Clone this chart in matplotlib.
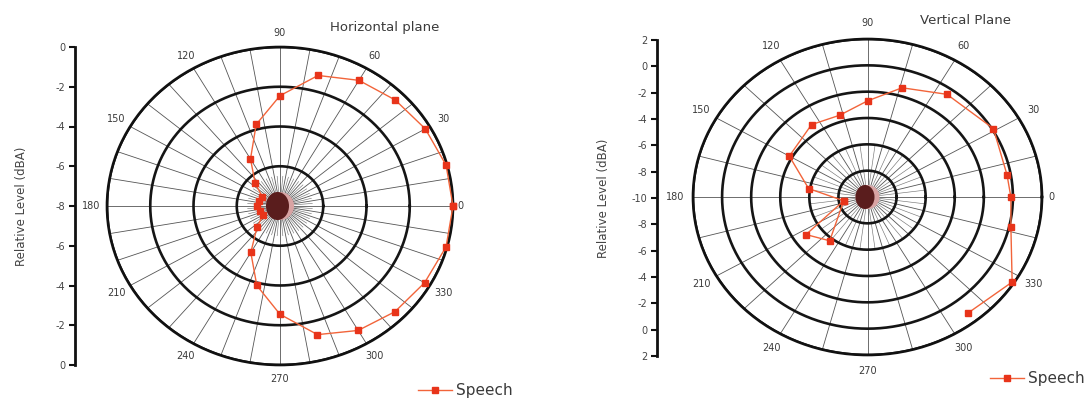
import numpy as np
import matplotlib
matplotlib.use("Agg")
import matplotlib.pyplot as plt
from matplotlib.patches import Ellipse
from matplotlib.lines import Line2D

# ---------------- data ----------------
angle_labels = [0, 30, 60, 90, 120, 150, 180, 210, 240, 270, 300, 330]

h_title = "Horizontal plane"
h_angles = [0, 15, 30, 45, 60, 75, 90, 105, 120, 135, 150, 165, 180,
            195, 210, 225, 240, 255, 270, 285, 300, 315, 330, 345, 0]
h_levels = [0.0, -0.05, -0.24, -0.46, -0.7, -1.2, -2.45, -3.75, -5.27, -6.38,
            -7.05, -7.0, -6.95, -7.05, -7.1, -6.5, -5.3, -3.86, -2.55, -1.3,
            -0.77, -0.48, -0.28, -0.05, 0.0]
h_range = (-8, 0)
h_rings = [-6, -4, -2, 0]

v_title = "Vertical Plane"
v_angles = [308, 327, 347, 0, 10, 31, 55, 74, 90, 107, 125, 150, 171,
            190, 214, 232, 190]
v_levels = [1.2, 1.86, 0.12, -0.14, -0.26, 0.1, -0.48, -1.37, -2.7, -3.5,
            -3.29, -3.79, -5.9, -8.34, -4.9, -5.78, -8.34]
v_range = (-10, 2)
v_rings = [-8, -6, -4, -2, 0, 2]

series_name = "Speech"
y_label = "Relative Level (dBA)"

# ---------------- figure ----------------
W, H = 1089, 398
fig = plt.figure(figsize=(W / 100, H / 100), dpi=100)
fig.patch.set_facecolor("white")

LINE_C = "#f2643a"
MARK_C = "#e8341a"
TXT_C = "#3a3a3a"


def px_rect(x0, y0, x1, y1):
    return [x0 / W, 1 - y1 / H, (x1 - x0) / W, (y1 - y0) / H]


def polar_panel(rect, rng, rings, spoke_step, inner_step, inner_r,
                angles, levels, label_r, zero_r, disk_px, w_px, h_px):
    ax = fig.add_axes(rect, projection="polar")
    ax.set_aspect("auto")
    ax.set_ylim(*rng)
    ax.grid(False)
    ax.set_xticks([])
    ax.set_yticks([])
    ax.spines["polar"].set_linewidth(1.9)
    ax.spines["polar"].set_color("#111111")
    span = rng[1] - rng[0]
    th = np.linspace(0, 2 * np.pi, 721)
    for r in rings:
        ax.plot(th, np.full_like(th, r), color="#151515", lw=1.9, zorder=2)
    for a in np.arange(0, 360, spoke_step):
        ax.plot([np.deg2rad(a)] * 2, [rng[0], rng[1]], color="#555555",
                lw=0.6, zorder=1)
    for a in np.arange(0, 360, inner_step):
        if a % spoke_step:
            ax.plot([np.deg2rad(a)] * 2, [rng[0], inner_r], color="#777777",
                    lw=0.45, zorder=1)
    for a in angle_labels:
        if a == 0:
            ax.text(0, rng[0] + zero_r * span, "0", ha="center", va="center",
                    fontsize=7, color=TXT_C, clip_on=False)
        else:
            ax.text(np.deg2rad(a), rng[0] + label_r * span, str(a),
                    ha="center", va="center", fontsize=7, color=TXT_C,
                    clip_on=False)
    # head icon in the centre
    ax.add_patch(Ellipse((0.5, 0.5), 2 * disk_px / w_px, 2 * disk_px / h_px,
                         transform=ax.transAxes, facecolor="#d9a3a3",
                         edgecolor="none", zorder=3))
    ax.add_patch(Ellipse((0.5 - 2.5 / w_px, 0.5), 2 * (disk_px - 2.5) / w_px,
                         2 * disk_px / h_px, transform=ax.transAxes,
                         facecolor="#5a1d1d", edgecolor="none", zorder=4))
    ax.plot(np.deg2rad(angles), levels, color=LINE_C, lw=1.0,
            marker="s", markersize=4.3, markerfacecolor=MARK_C,
            markeredgecolor=MARK_C, zorder=5, clip_on=False)
    return ax


def level_axis(x_px, y0_px, y1_px, rng, label_x_px):
    ax = fig.add_axes([x_px / W, 1 - y1_px / H, 0.0005, (y1_px - y0_px) / H])
    span = rng[1] - rng[0]
    ax.set_ylim(2 * span, 0)
    ticks = np.arange(0, 2 * span + 1, 2)
    ax.set_yticks(ticks)
    ax.set_yticklabels([f"{rng[0] + abs(t - span):g}" for t in ticks])
    for s in ["top", "right", "bottom"]:
        ax.spines[s].set_visible(False)
    ax.spines["left"].set_linewidth(2.0)
    ax.spines["left"].set_color("#111111")
    ax.set_xticks([])
    ax.tick_params(axis="y", direction="out", length=4, width=1.5,
                   colors="#111111", labelcolor="#444444", labelsize=7, pad=3)
    fig.text(label_x_px / W, 1 - (y0_px + y1_px) / 2 / H, y_label,
             rotation=90, ha="center", va="center", fontsize=8.5,
             color="#444444")
    return ax


# Left: horizontal plane
polar_panel(px_rect(107, 47, 453, 365), h_range, h_rings, 10, 5, -6.5,
            h_angles, h_levels, 1.09, 1.045, 14, 346, 318)
level_axis(75, 47, 365, h_range, 22)
fig.text(385 / W, 1 - 28 / H, h_title, ha="center", va="center",
         fontsize=9.5, color=TXT_C)

# Right: vertical plane
polar_panel(px_rect(693, 39, 1042, 355), v_range, v_rings, 15, 7.5, -6,
            v_angles, v_levels, 1.1, 1.055, 12, 349, 316)
level_axis(657, 40, 356, v_range, 603)
fig.text(965 / W, 1 - 21 / H, v_title, ha="center", va="center",
         fontsize=9.5, color=TXT_C)

# legends
handle = Line2D([], [], color=LINE_C, lw=1.0, marker="s", markersize=4.3,
                markerfacecolor=MARK_C, markeredgecolor=MARK_C)
for x_px, y_px in [(418, 391), (990, 379)]:
    leg = fig.legend([handle], [series_name], loc="center left",
                     bbox_to_anchor=(x_px / W, 1 - y_px / H), frameon=False,
                     fontsize=11, handlelength=2.2, handletextpad=0.3,
                     borderpad=0, borderaxespad=0)
    for t in leg.get_texts():
        t.set_color(TXT_C)

fig.savefig("out.png", dpi=100, facecolor="white")
